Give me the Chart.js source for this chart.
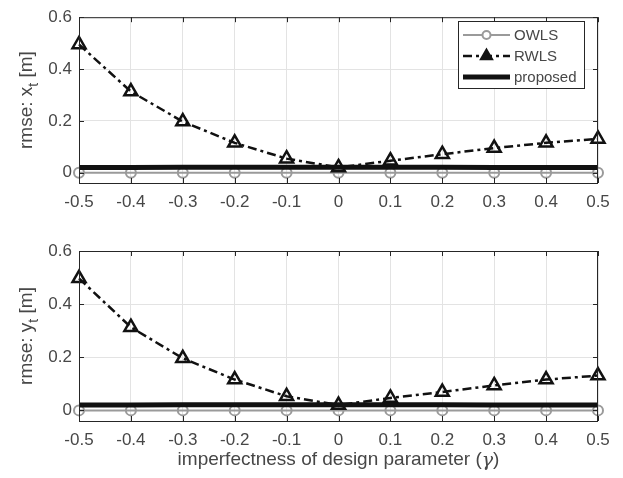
<!DOCTYPE html>
<html>
<head>
<meta charset="utf-8">
<script src="https://cdn.jsdelivr.net/npm/chart.js@4.4.1/dist/chart.umd.min.js"></script>
<style>
  body { margin: 0; background: #fff; }
  #wrap { position: relative; width: 623px; height: 478px; }
  canvas { position: absolute; left: 0; }
</style>
</head>
<body>
<div id="wrap">
  <canvas id="topChart" width="623" height="215" style="top:0"></canvas>
  <canvas id="bottomChart" width="623" height="263" style="top:215px"></canvas>
</div>
<script>
// design parameter imperfectness (gamma)
const gamma = [-0.5, -0.4, -0.3, -0.2, -0.1, 0, 0.1, 0.2, 0.3, 0.4, 0.5];
const xTickLabels = ['-0.5', '-0.4', '-0.3', '-0.2', '-0.1', '0', '0.1', '0.2', '0.3', '0.4', '0.5'];
const yTickValues = [0, 0.2, 0.4, 0.6];
const yTickLabels = ['0', '0.2', '0.4', '0.6'];

// rmse of x_t
const owlsX = [0, 0, 0, 0, 0, 0, 0, 0, 0, 0, 0];
const rwlsX = [0.495, 0.313, 0.197, 0.115, 0.054, 0.02, 0.046, 0.071, 0.095, 0.115, 0.13];
const proposedX = [0.02, 0.02, 0.021, 0.021, 0.021, 0.021, 0.021, 0.021, 0.02, 0.02, 0.02];

// rmse of y_t
const owlsY = [0, 0, 0, 0, 0, 0, 0, 0, 0, 0, 0];
const rwlsY = [0.497, 0.313, 0.196, 0.116, 0.053, 0.02, 0.047, 0.069, 0.094, 0.116, 0.131];
const proposedY = [0.02, 0.02, 0.021, 0.021, 0.021, 0.021, 0.021, 0.021, 0.02, 0.02, 0.02];

const seriesNames = ['OWLS', 'RWLS', 'proposed'];

const AXIS = '#262626';
const TEXT = '#474747';
const FONT = '"Liberation Sans", Arial, sans-serif';
const GREEK = 'italic 19px "DejaVu Serif", "Liberation Serif", serif';

function pts(vals) {
    return vals.map((v, i) => ({ x: gamma[i], y: v }));
}

function makeDatasets(owls, rwls, proposed) {
    return [
        {
            label: seriesNames[0], data: pts(owls), order: 2,
            borderColor: '#9a9a9a', borderWidth: 2,
            pointStyle: 'circle', pointRadius: 5, pointBorderWidth: 2,
            pointBorderColor: '#9a9a9a', pointBackgroundColor: 'rgba(0,0,0,0)',
            clip: false
        },
        {
            label: seriesNames[1], data: pts(rwls), order: 1,
            borderColor: '#111', borderWidth: 2.5, borderDash: [9, 4, 3, 4],
            pointStyle: 'triangle', pointRadius: 7.5, pointBorderWidth: 2.5,
            pointBorderColor: '#111', pointBackgroundColor: 'rgba(0,0,0,0)',
            clip: false
        },
        {
            label: seriesNames[2], data: pts(proposed), order: 0,
            borderColor: '#111', borderWidth: 5, pointRadius: 0,
            clip: false
        }
    ];
}

// box, inward ticks, axis titles
const matlabAxes = {
    id: 'matlabAxes',
    afterDatasetsDraw(chart, args, opts) {
        const ctx = chart.ctx;
        const a = chart.chartArea;
        const xs = chart.scales.x, ys = chart.scales.y;
        ctx.save();
        ctx.strokeStyle = AXIS;
        ctx.lineWidth = 1;
        ctx.strokeRect(a.left + 0.5, a.top + 0.5, a.right - a.left - 1, a.bottom - a.top);
        ctx.beginPath();
        gamma.forEach(g => {
            const px = Math.round(xs.getPixelForValue(g)) + 0.5;
            ctx.moveTo(px, a.top); ctx.lineTo(px, a.top + 5);
            ctx.moveTo(px, a.bottom); ctx.lineTo(px, a.bottom - 5);
        });
        yTickValues.forEach(v => {
            const py = Math.round(ys.getPixelForValue(v)) + 0.5;
            ctx.moveTo(a.left, py); ctx.lineTo(a.left + 5, py);
            ctx.moveTo(a.right, py); ctx.lineTo(a.right - 5, py);
        });
        ctx.stroke();

        // y title with subscript
        ctx.fillStyle = TEXT;
        ctx.translate(opts.yTitleX, (a.top + a.bottom) / 2);
        ctx.rotate(-Math.PI / 2);
        const p1 = opts.yTitle[0], sub = opts.yTitle[1], p2 = opts.yTitle[2];
        ctx.font = '19px ' + FONT;
        const w1 = ctx.measureText(p1).width;
        const w2 = ctx.measureText(p2).width;
        ctx.font = '14px ' + FONT;
        const ws = ctx.measureText(sub).width;
        let x0 = -(w1 + ws + w2) / 2;
        ctx.textBaseline = 'middle';
        ctx.textAlign = 'left';
        ctx.font = '19px ' + FONT;
        ctx.fillText(p1, x0, 0);
        ctx.fillText(p2, x0 + w1 + ws, 0);
        ctx.font = '14px ' + FONT;
        ctx.fillText(sub, x0 + w1, 7);
        ctx.restore();

        if (opts.xTitle) {
            ctx.save();
            ctx.fillStyle = TEXT;
            ctx.textBaseline = 'middle';
            ctx.textAlign = 'left';
            const t1 = opts.xTitle[0], g = opts.xTitle[1], t2 = opts.xTitle[2];
            ctx.font = '19px ' + FONT;
            const tw1 = ctx.measureText(t1).width;
            const tw3 = ctx.measureText(t2).width;
            ctx.font = GREEK;
            const tw2 = ctx.measureText(g).width;
            const cx = (a.left + a.right) / 2;
            const sx = cx - (tw1 + tw2 + tw3) / 2;
            ctx.font = '19px ' + FONT;
            ctx.fillText(t1, sx, opts.xTitleY);
            ctx.fillText(t2, sx + tw1 + tw2, opts.xTitleY);
            ctx.font = GREEK;
            ctx.fillText(g, sx + tw1, opts.xTitleY + 1);
            ctx.restore();
        }
    }
};

// legend box in the upper right of the top axes
const boxLegend = {
    id: 'boxLegend',
    afterDraw(chart, args, opts) {
        if (!opts.show) return;
        const ctx = chart.ctx;
        const ds = chart.data.datasets;
        ctx.save();
        ctx.fillStyle = '#fff';
        ctx.fillRect(458, 21, 126, 67);
        ctx.strokeStyle = AXIS;
        ctx.lineWidth = 1;
        ctx.strokeRect(458.5, 21.5, 126, 67);
        const rows = [35, 56, 77];
        ds.forEach((d, i) => {
            const y = rows[i];
            ctx.strokeStyle = d.borderColor;
            ctx.lineWidth = d.borderWidth;
            ctx.setLineDash(d.borderDash || []);
            ctx.beginPath();
            ctx.moveTo(463, y); ctx.lineTo(510, y);
            ctx.stroke();
            ctx.setLineDash([]);
            if (d.pointRadius > 0) {
                ctx.lineWidth = d.pointBorderWidth;
                ctx.strokeStyle = d.pointBorderColor;
                ctx.fillStyle = d.pointStyle === 'circle' ? '#fff' : d.pointBorderColor;
                Chart.helpers.drawPoint(ctx, {
                    pointStyle: d.pointStyle, rotation: 0,
                    radius: d.pointStyle === 'circle' ? 4 : 6, borderWidth: d.pointBorderWidth
                }, 486.5, y);
            }
            ctx.fillStyle = TEXT;
            ctx.font = '15px ' + FONT;
            ctx.textBaseline = 'middle';
            ctx.textAlign = 'left';
            ctx.fillText(d.label, 514, y + 1);
        });
        ctx.restore();
    }
};

function makeChart(id, datasets, cfg) {
    return new Chart(document.getElementById(id).getContext('2d'), {
        type: 'line',
        data: { datasets: datasets },
        options: {
            responsive: false,
            animation: false,
            layout: { padding: { left: 0, right: 25, top: cfg.top, bottom: 0 } },
            plugins: {
                legend: { display: false },
                tooltip: { enabled: false },
                matlabAxes: cfg.axes,
                boxLegend: { show: cfg.legend }
            },
            elements: { line: { tension: 0, borderCapStyle: 'butt' } },
            scales: {
                x: {
                    type: 'linear', min: -0.5, max: 0.5,
                    afterBuildTicks: s => { s.ticks = gamma.map(v => ({ value: v })); },
                    afterFit: s => { s.height = cfg.xHeight; },
                    grid: { color: '#e3e3e3', drawTicks: false },
                    border: { display: false },
                    ticks: {
                        padding: 9, color: TEXT, maxRotation: 0, autoSkip: false,
                        font: { family: FONT, size: 17 },
                        callback: (v, i) => xTickLabels[i]
                    }
                },
                y: {
                    type: 'linear', min: -0.04, max: 0.6,
                    afterBuildTicks: s => { s.ticks = yTickValues.map(v => ({ value: v })); },
                    afterFit: s => { s.width = 79; },
                    grid: { color: '#e3e3e3', drawTicks: false },
                    border: { display: false },
                    ticks: {
                        padding: 7, color: TEXT,
                        font: { family: FONT, size: 17 },
                        callback: (v, i) => yTickLabels[i]
                    }
                }
            }
        },
        plugins: [matlabAxes, boxLegend]
    });
}

makeChart('topChart', makeDatasets(owlsX, rwlsX, proposedX), {
    top: 13, xHeight: 32, legend: true,
    axes: { yTitle: ['rmse: x', 't', ' [m]'], yTitleX: 27 }
});

makeChart('bottomChart', makeDatasets(owlsY, rwlsY, proposedY), {
    top: 36, xHeight: 57, legend: false,
    axes: { yTitle: ['rmse: y', 't', ' [m]'], yTitleX: 27,
            xTitle: ['imperfectness of design parameter (', 'γ', ')'], xTitleY: 245 }
});
</script>
</body>
</html>
